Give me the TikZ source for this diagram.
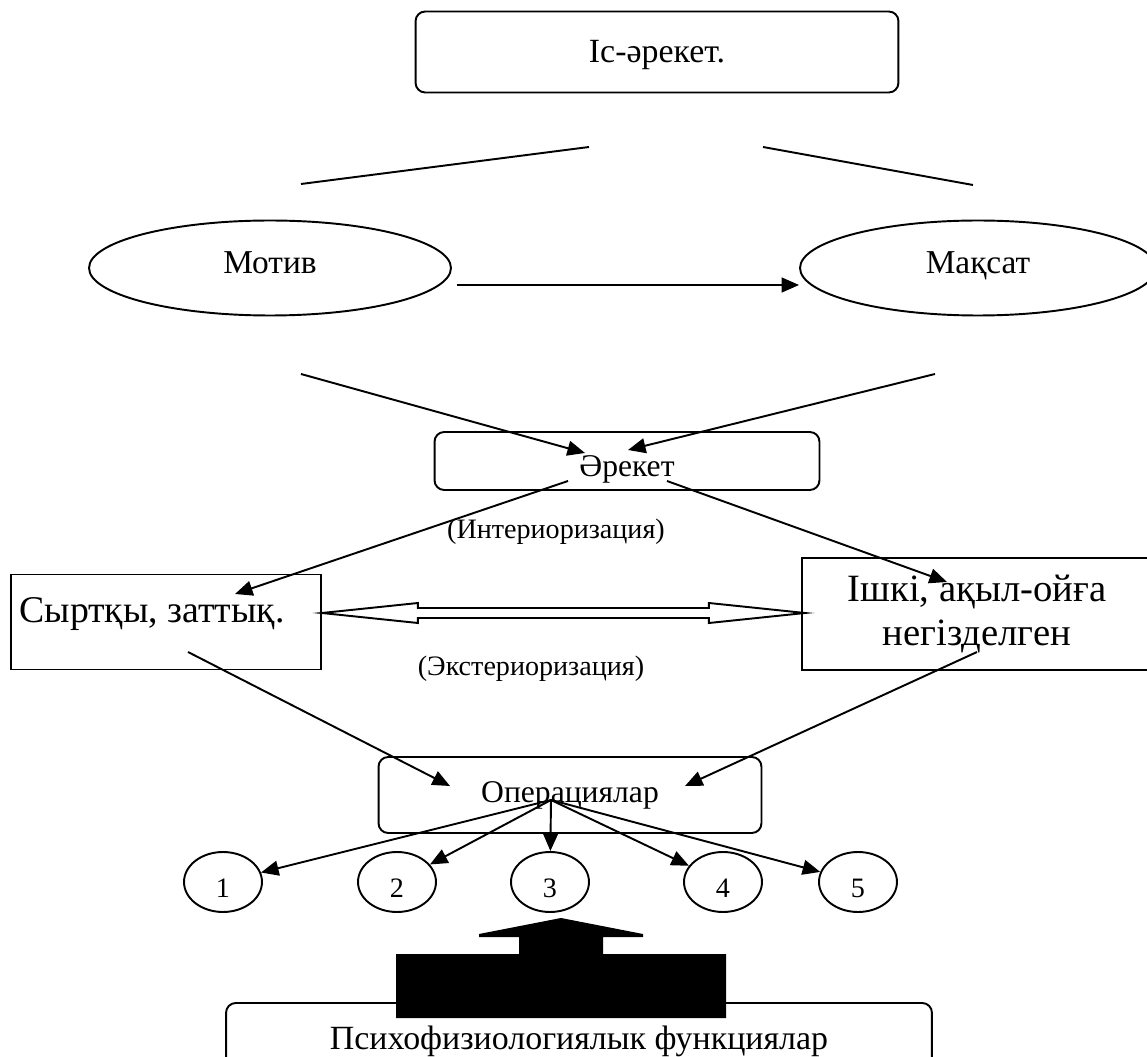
\documentclass[tikz,border=0pt]{standalone}
\usepackage{fontspec}
\setmainfont{Liberation Serif}
\usetikzlibrary{arrows.meta,shapes.geometric}

\begin{document}
\begin{tikzpicture}[x=0.02cm,y=-0.02cm,line width=1.1pt,
  >={Triangle[length=10pt,width=8.5pt]},
  rbox/.style={draw,rounded corners=5.5pt,inner sep=0pt,font=\fontsize{19.3}{22}\selectfont},
  sbox/.style={draw,inner sep=0pt,align=center,font=\fontsize{21.5}{25}\selectfont},
  oval/.style={draw,ellipse,inner sep=0pt,minimum height=1.9cm,font=\fontsize{19}{22}\selectfont},
  digit/.style={draw,ellipse,inner sep=0pt,minimum width=1.56cm,minimum height=1.2cm,font=\fontsize{16}{18}\selectfont},
  note/.style={font=\fontsize{16}{19}\selectfont}]
\useasboundingbox (0,0) rectangle (1147,1057);
\clip (0,0) rectangle (1147,1057);
% top box
  \node[rbox,minimum width=9.66cm,minimum height=1.62cm] (act) at (657,52) {\raisebox{-0.06cm}[\height][\depth]{Іс-әрекет.}};
  \coordinate (tl1) at (301,184);
  \coordinate (tl2) at (589,147);
  \coordinate (tr1) at (763,147);
  \coordinate (tr2) at (973,185);
  \draw (tl1) -- (tl2);
  \draw (tr1) -- (tr2);
% motive and goal
  \node[oval,minimum width=7.24cm] (motive) at (270,268) {\raisebox{0.1cm}[\height][\depth]{Мотив}};
  \node[oval,minimum width=7.12cm] (goal) at (978,268) {\raisebox{0.04cm}[\height][\depth]{Мақсат}};
  \draw[->] ([shift={(5,17)}]motive.east) -- ([shift={(0,17)}]goal.west);
% action
  \node[rbox,minimum width=7.7cm,minimum height=1.16cm,font=\fontsize{18}{22}\selectfont] (deed) at (627,461) {\raisebox{-0.16cm}[\height][\depth]{Әрекет}};
  \coordinate (bl) at (301,374);
  \coordinate (br) at (935,374);
  \draw[->] (bl) -- ([shift={(-42,-8)}]deed.center);
  \draw[->] (br) -- ([shift={(1,-11)}]deed.center);
% outer and inner
  \node[sbox,minimum width=6.2cm,minimum height=1.9cm] (outer) at (166,622) {\raisebox{0.16cm}[\height][\depth]{\kern-0.28cm Сыртқы, заттық.\kern0.28cm}};
  \node[sbox,minimum width=7cm,minimum height=2.24cm,font=\fontsize{22}{25}\selectfont] (inner) at (977,614) {Ішкі, ақыл-ойға\\негізделген};
  \draw[->] ([shift={(-59,20)}]deed.center) -- ([shift={(69,-28)}]outer.center);
  \draw[->] ([shift={(40,20)}]deed.center) -- ([shift={(-30,-32)}]inner.center);
  \node[note] (intlbl) at (556,532) {(Интериоризация)};
  \node[note] (extlbl) at (531,669) {(Экстериоризация)};
% hollow double arrow
  \draw ([shift={(0,-9)}]outer.east) -- ++(96,-10) -- ++(0,5) -- ++(291,0) -- ++(0,-5)
    -- ++(96,10) -- ++(-96,10) -- ++(0,-5) -- ++(-291,0) -- ++(0,5) -- cycle;
% operations
  \node[rbox,minimum width=7.66cm,minimum height=1.52cm,font=\fontsize{18}{22}\selectfont] (ops) at (570,795) {Операциялар};
  \draw[->] ([shift={(22,30)}]outer.center) -- ([shift={(-120,-9)}]ops.center);
  \draw[->] ([shift={(0,38)}]inner.center) -- ([shift={(115,-9)}]ops.center);
  \coordinate (hub) at ([shift={(-19,5)}]ops.center);
% numbered ovals
  \foreach \i/\xx in {1/223,2/397,3/550,4/723,5/858}{
    \node[digit] (c\i) at (\xx,882) {\raisebox{-0.12cm}[\height][\depth]{\i}};
    \draw[->] (hub) -- (c\i);
  }
% functions
  \node[rbox,minimum width=14.12cm,minimum height=1.4cm] (func) at (579,1038) {\raisebox{-0.06cm}[\height][\depth]{Психофизиологиялык функциялар}};
  \fill (561,918) -- (479,934) -- (479,937) -- (519,937) -- (519,954) -- (396,954) -- (396,1018)
    -- (726,1018) -- (726,954) -- (603,954) -- (603,937) -- (643,937) -- (643,934) -- cycle;
\end{tikzpicture}
\end{document}
